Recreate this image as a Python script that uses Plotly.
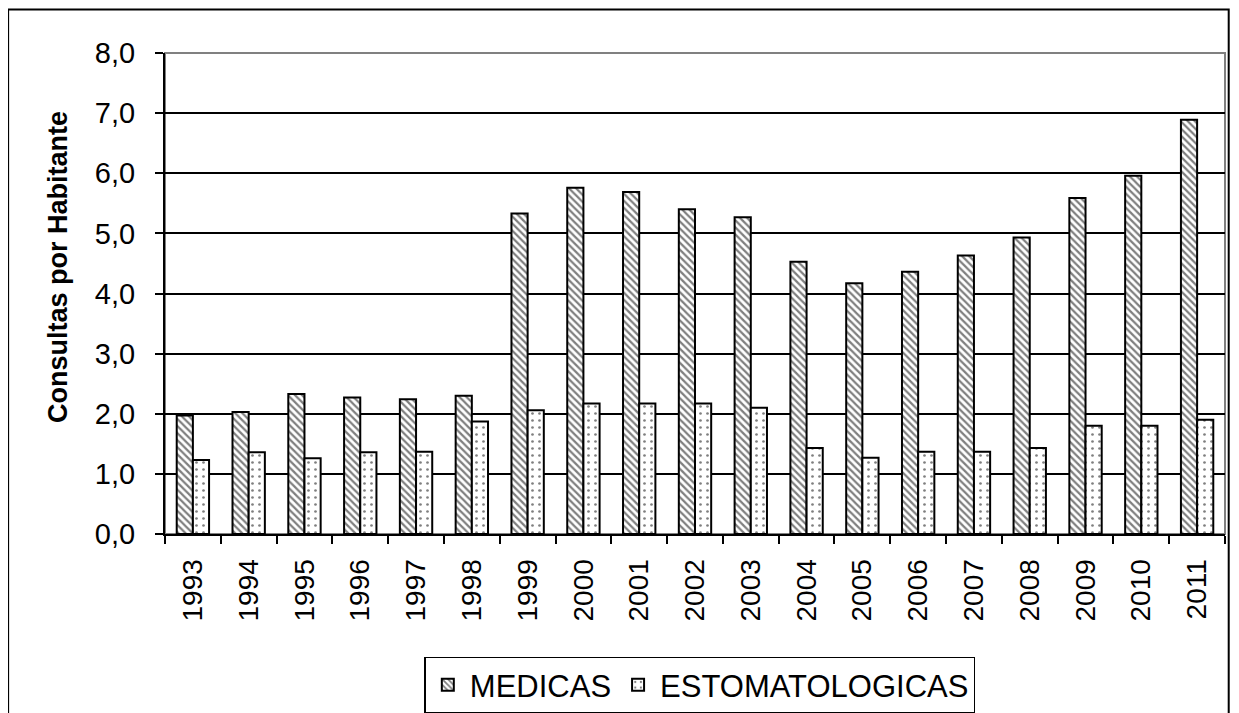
import plotly.graph_objects as go

years = [str(y) for y in range(1993, 2012)]
medicas = [1.97, 2.03, 2.33, 2.27, 2.24, 2.30, 5.33, 5.76, 5.69, 5.40, 5.27,
           4.53, 4.17, 4.36, 4.63, 4.93, 5.59, 5.96, 6.89]
estomatologicas = [1.23, 1.36, 1.26, 1.36, 1.37, 1.87, 2.06, 2.17, 2.17, 2.17, 2.10,
                   1.43, 1.27, 1.37, 1.37, 1.43, 1.80, 1.80, 1.90]

fig = go.Figure()
fig.add_trace(go.Bar(
    x=years, y=medicas, name="MEDICAS",
    marker=dict(color="white", line=dict(color="black", width=2),
                pattern=dict(shape="\\", fgcolor="black", bgcolor="white",
                             size=5, solidity=0.45)),
))
fig.add_trace(go.Bar(
    x=years, y=estomatologicas, name="ESTOMATOLOGICAS",
    marker=dict(color="white", line=dict(color="black", width=2),
                pattern=dict(shape=".", fgcolor="black", bgcolor="white",
                             size=7, solidity=0.12)),
))

# plot area frame (gray) and outer chart border
fig.add_shape(type="rect", xref="paper", yref="paper", x0=0, y0=0, x1=1, y1=1,
              line=dict(color="#808080", width=2), layer="below")
fig.add_shape(type="rect", xref="paper", yref="paper", x0=-0.148, y0=-0.6,
              x1=1.0035, y1=1.0905, line=dict(color="black", width=2))

# y axis title placed like the original (a bit above centre)
fig.add_annotation(text="<b>Consultas por Habitante</b>", textangle=-90,
                   xref="paper", yref="paper", x=-0.101, y=0.555,
                   xanchor="center", yanchor="middle", showarrow=False,
                   font=dict(size=27))

fig.update_layout(
    width=1231, height=705,
    margin=dict(l=157, r=14, t=45, b=179),
    paper_bgcolor="white", plot_bgcolor="white",
    font=dict(family="Liberation Sans, Arial", size=28, color="black"),
    separators=",.",
    barmode="group", bargap=0.42, bargroupgap=0,
    showlegend=True,
    legend=dict(orientation="h", xref="container", yref="container",
                x=0.562, xanchor="center", y=0.08, yanchor="top",
                bordercolor="black", borderwidth=1.5, font=dict(size=31),
                itemwidth=34, traceorder="normal"),
    xaxis=dict(
        tickangle=-90, showline=True, linecolor="black", linewidth=2,
        ticks="outside", tickson="boundaries", ticklen=8, tickcolor="black",
        tickwidth=1.5, showgrid=False, tickfont=dict(size=28),
        ticklabelstandoff=12, automargin=False,
    ),
    yaxis=dict(
        range=[0, 8], dtick=1, tickformat=".1f",
        showline=True, linecolor="black", linewidth=2,
        ticks="outside", ticklen=8, tickcolor="black", tickwidth=1.5,
        showgrid=True, gridcolor="black", gridwidth=2, zeroline=False,
        tickfont=dict(size=29), ticklabelstandoff=14, automargin=False,
    ),
)

fig.write_html("out.html")
